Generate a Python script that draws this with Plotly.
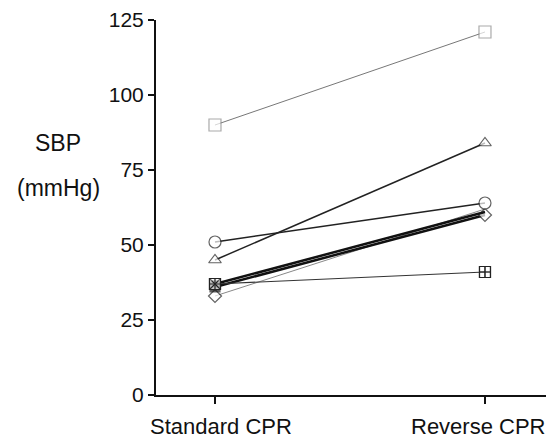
import plotly.graph_objects as go

categories = ["Standard CPR", "Reverse CPR"]
x_pos = [0, 1]
label_offset = [0.022, -0.026]

sq_open = [90, 121]
triangle = [45, 84]
circle = [51, 64]
sq_cross = [37, 41]
diamond = [33, 62]
filled_a = [36, 60]
filled_b = [37, 61]

y_ticks = [0, 25, 50, 75, 100, 125]

fig = go.Figure()

def add(y, symbols, sizes, lcolor, lwidth, mcolor="white", mline="#222"):
    fig.add_trace(go.Scatter(
        x=x_pos, y=y, mode="lines+markers",
        line=dict(color=lcolor, width=lwidth),
        marker=dict(symbol=symbols, size=sizes, color=mcolor,
                    line=dict(color=mline, width=1.2)),
        showlegend=False, cliponaxis=False))

add(sq_open, ["square", "square"], [12, 12], "#777", 1, mline="#888")
add(triangle, ["triangle-up", "triangle-up"], [11, 11], "#222", 1.5)
add(diamond, ["diamond", "diamond"], [10, 0], "#888", 1)
add(filled_a, ["square", "diamond"], [10, 10], "#111", 2.5, mcolor=["#111", "white"])
add(filled_b, ["circle", "circle"], [8, 0], "#111", 2.5, mcolor="#111")
add(sq_cross, ["square-x", "square-cross"], [11, 11], "#333", 1.2)
fig.add_trace(go.Scatter(
    x=x_pos, y=sq_cross, mode="markers",
    marker=dict(symbol="square-cross-open", size=11, color="#222",
                line=dict(color="#222", width=1.2)),
    showlegend=False, cliponaxis=False))
add(circle, ["circle", "circle"], [12, 12], "#222", 1.5)

annotations = [
    dict(text="SBP", xref="paper", yref="paper", x=-0.251, y=0.672,
         xanchor="center", yanchor="middle",
         showarrow=False, font=dict(size=23)),
    dict(text="(mmHg)", xref="paper", yref="paper", x=-0.249, y=0.552,
         xanchor="center", yanchor="middle",
         showarrow=False, font=dict(size=23)),
]
for xp, off, lab in zip(x_pos, label_offset, categories):
    annotations.append(dict(text=lab, xref="x", yref="paper", x=xp + off, y=0,
                            xanchor="center", yanchor="top", yshift=-17,
                            showarrow=False, font=dict(size=22)))

fig.update_layout(
    width=548, height=440,
    margin=dict(l=156, r=2, t=20, b=45),
    paper_bgcolor="white", plot_bgcolor="white",
    font=dict(family="Liberation Sans, Arial, sans-serif", size=21, color="#111"),
    xaxis=dict(range=[-0.2185, 1.226], tickvals=x_pos, ticktext=["", ""],
               showgrid=False, zeroline=False, showline=True, linecolor="#111",
               linewidth=2, ticks="outside", ticklen=7, tickwidth=2,
               tickcolor="#111"),
    yaxis=dict(range=[0, 125], tickvals=y_ticks, showgrid=False, zeroline=False,
               showline=True, linecolor="#111", linewidth=2, ticks="outside",
               ticklen=6, tickwidth=2, tickcolor="#111"),
    annotations=annotations,
)

fig.write_html(
    "out.html",
    config={"displayModeBar": False},
    post_script="document.body.style.margin='0';document.body.style.overflow='hidden';",
)
